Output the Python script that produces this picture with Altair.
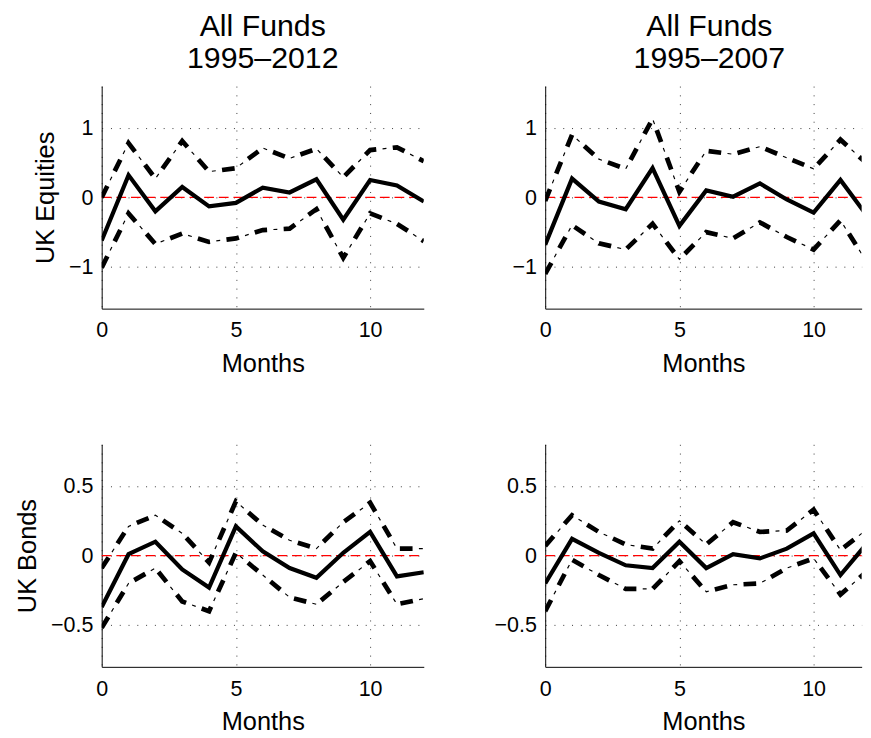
import altair as alt
import pandas as pd

months = list(range(13))

# UK Equities, 1995-2012
eq_full_irf = [-0.62, 0.32, -0.20, 0.15, -0.13, -0.08, 0.14, 0.07, 0.26, -0.32, 0.25, 0.17, -0.06]
eq_full_up = [0.00, 0.78, 0.27, 0.81, 0.37, 0.42, 0.71, 0.56, 0.70, 0.29, 0.68, 0.72, 0.52]
eq_full_lo = [-1.01, -0.23, -0.67, -0.52, -0.64, -0.59, -0.47, -0.45, -0.17, -0.87, -0.23, -0.38, -0.63]
# UK Equities, 1995-2007
eq_pre_irf = [-0.68, 0.27, -0.06, -0.17, 0.42, -0.41, 0.10, 0.01, 0.20, -0.03, -0.22, 0.25, -0.27]
eq_pre_up = [-0.05, 0.90, 0.55, 0.41, 1.13, 0.08, 0.67, 0.62, 0.73, 0.57, 0.41, 0.83, 0.48]
eq_pre_lo = [-1.10, -0.40, -0.66, -0.75, -0.38, -0.89, -0.50, -0.59, -0.36, -0.57, -0.75, -0.33, -0.94]
# UK Bonds, 1995-2012
bd_full_irf = [-0.37, 0.01, 0.10, -0.10, -0.23, 0.21, 0.03, -0.09, -0.16, 0.02, 0.17, -0.15, -0.12]
bd_full_up = [-0.09, 0.21, 0.29, 0.16, -0.05, 0.39, 0.22, 0.11, 0.05, 0.24, 0.38, 0.05, 0.05]
bd_full_lo = [-0.52, -0.20, -0.09, -0.33, -0.40, 0.02, -0.14, -0.30, -0.35, -0.19, -0.04, -0.35, -0.31]
# UK Bonds, 1995-2007
bd_pre_irf = [-0.20, 0.12, 0.02, -0.07, -0.09, 0.10, -0.09, 0.01, -0.02, 0.05, 0.16, -0.14, 0.09]
bd_pre_up = [0.07, 0.29, 0.17, 0.08, 0.05, 0.25, 0.08, 0.24, 0.17, 0.18, 0.33, 0.04, 0.19]
bd_pre_lo = [-0.40, -0.03, -0.14, -0.24, -0.24, -0.04, -0.26, -0.21, -0.20, -0.09, -0.02, -0.28, -0.11]

FONT = "Liberation Sans"


def panel(irf, up, lo, ydom, yvals, xmax, width, title=None, ytitle=None, tdx=0):
    rows = []
    for name, vals in (("irf", irf), ("up", up), ("lo", lo)):
        for m, v in zip(months, vals):
            rows.append({"Months": m, "series": name, "value": v})
    df = pd.DataFrame(rows)

    x = alt.X(
        "Months:Q",
        scale=alt.Scale(domain=[0, xmax], nice=False, zero=False),
        axis=alt.Axis(values=[0, 5, 10], title="Months", format="d"),
    )
    y = alt.Y(
        "value:Q",
        scale=alt.Scale(domain=ydom, nice=False, zero=False),
        axis=alt.Axis(values=yvals, title=ytitle, format=".1~f"),
    )
    base = alt.Chart(df).encode(x=x, y=y)

    zero = base.mark_rule(color="#ff0000", strokeWidth=1.3, strokeDash=[10, 5]).encode(
        y=alt.datum(0), x=alt.value(0), x2=alt.value(width)
    ).transform_filter("datum.series == 'irf' && datum.Months == 0")

    thick = base.transform_filter("datum.series != 'irf'").mark_line(
        color="black", strokeWidth=4.8, strokeDash=[13, 17], clip=True
    ).encode(detail="series:N")
    thin = base.transform_filter("datum.series != 'irf'").mark_line(
        color="black", strokeWidth=1.2, strokeDash=[4, 26], strokeDashOffset=10.5, clip=True
    ).encode(detail="series:N")
    solid = base.transform_filter("datum.series == 'irf'").mark_line(
        color="black", strokeWidth=4.3, clip=True
    )

    props = dict(width=width, height=228)
    if title is not None:
        props["title"] = alt.TitleParams(
            title, fontSize=31, font=FONT, fontWeight="normal", color="black",
            lineHeight=32, offset=12, dx=tdx,
        )
    return alt.layer(zero, thick, thin, solid).properties(**props)


PX = 27.5
w_left = 12 * PX
xmax_right = 11.79
w_right = xmax_right * PX

p1 = panel(eq_full_irf, eq_full_up, eq_full_lo, [-1.6, 1.6], [-1, 0, 1], 12, w_left,
           title=["All Funds", "1995–2012"], ytitle="UK Equities")
p2 = panel(eq_pre_irf, eq_pre_up, eq_pre_lo, [-1.6, 1.6], [-1, 0, 1], xmax_right, w_right,
           title=["All Funds", "1995–2007"], tdx=6)
p3 = panel(bd_full_irf, bd_full_up, bd_full_lo, [-0.8, 0.8], [-0.5, 0, 0.5], 12, w_left,
           ytitle="UK Bonds")
p4 = panel(bd_pre_irf, bd_pre_up, bd_pre_lo, [-0.8, 0.8], [-0.5, 0, 0.5], xmax_right, w_right)

chart = alt.concat(
    p1, p2, p3, p4, columns=2, spacing={"row": 139, "column": 124.4}, bounds="flush"
).properties(
    padding={"left": 7, "top": -5, "right": 0, "bottom": 0}
).configure_view(stroke=None).configure_axis(
    domainColor="black",
    domainWidth=1,
    ticks=False,
    tickSize=0,
    labelFont=FONT,
    labelFontSize=22,
    labelColor="black",
    labelPadding=9,
    titleFont=FONT,
    titleFontSize=26,
    titleFontWeight="normal",
    titleColor="black",
    titlePadding=10,
    grid=True,
    gridColor="black",
    gridDash=[1, 8],
    gridWidth=1,
    gridOpacity=0.8,
).configure_axisX(labelFlush=False, labelPadding=12)

chart.save("out.html", embed_options={"renderer": "svg", "actions": False})
